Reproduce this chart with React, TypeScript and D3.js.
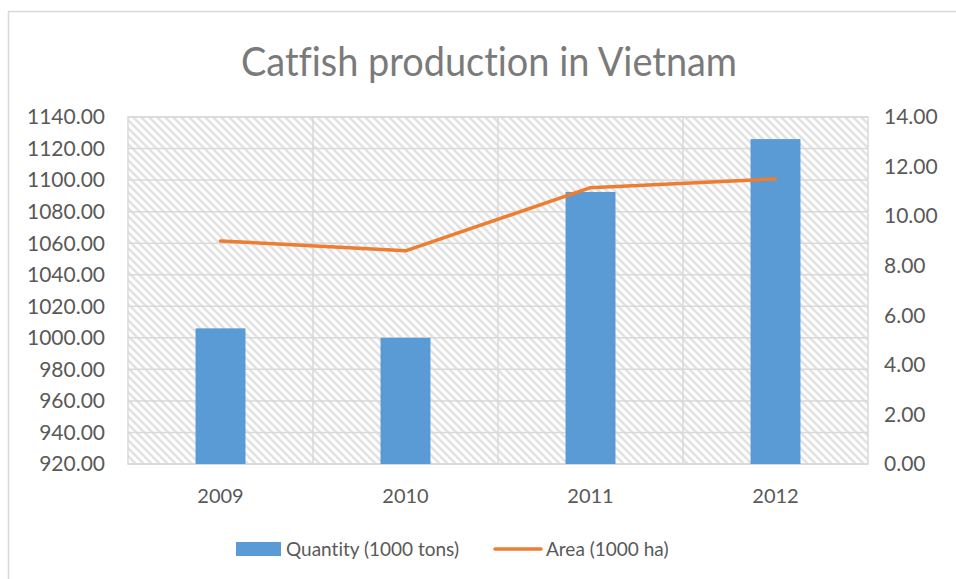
import React from "react";
import * as d3 from "d3";

const years = ["2009", "2010", "2011", "2012"];
const quantity = [1006, 1000, 1092.5, 1126];
const area = [9.0, 8.6, 11.15, 11.5];
const leftTicks = [920, 940, 960, 980, 1000, 1020, 1040, 1060, 1080, 1100, 1120, 1140];
const rightTicks = [0, 2, 4, 6, 8, 10, 12, 14];

const W = 956;
const H = 579;
const plot = { left: 128, right: 868, top: 117, bottom: 464 };
const FONT = "Lato, 'Open Sans', sans-serif";
const TXT = "#595959";
const GRID = "#d9d9d9";

export default function App() {
  const x = d3.scaleBand<string>().domain(years).range([plot.left, plot.right]).paddingInner(0).paddingOuter(0);
  const yL = d3.scaleLinear().domain([920, 1140]).range([plot.bottom, plot.top]);
  const yR = d3.scaleLinear().domain([0, 14]).range([plot.bottom, plot.top]);
  const bw = x.bandwidth() * 0.27;
  const line = d3
    .line<number>()
    .x((_, i) => (x(years[i]) as number) + x.bandwidth() / 2)
    .y((d) => yR(d));

  return (
    <svg width={W} height={H} style={{ position: "absolute", left: 0, top: 0, fontVariantLigatures: "none" }} fontFamily={FONT}>
      <defs>
        <pattern id="hatch" patternUnits="userSpaceOnUse" width="8" height="8">
          <rect width="8" height="8" fill="#ffffff" />
          <path d="M-2,-2 L10,10 M-2,6 L2,10 M6,-2 L10,2" stroke="#e2e2e2" strokeWidth="2.6" />
        </pattern>
      </defs>
      <rect x={0} y={0} width={W} height={H} fill="#ffffff" />
      <rect x={8.5} y={11.5} width={W + 20} height={H + 20} fill="#ffffff" stroke={GRID} strokeWidth={1.5} />
      <text x={489} y={76} textAnchor="middle" fontSize={40} fill="#7a7a7a" fontWeight={400} textLength={496} lengthAdjust="spacingAndGlyphs">
        Catfish production in Vietnam
      </text>
      <rect x={plot.left} y={plot.top} width={plot.right - plot.left} height={plot.bottom - plot.top} fill="url(#hatch)" />
      {leftTicks.map((t) => (
        <line key={"g" + t} x1={plot.left} x2={plot.right} y1={yL(t)} y2={yL(t)} stroke={GRID} strokeWidth={1.5} />
      ))}
      {years.map((y, i) =>
        i > 0 ? (
          <line key={"v" + y} x1={x(y)} x2={x(y)} y1={plot.top} y2={plot.bottom} stroke={GRID} strokeWidth={1.5} />
        ) : null
      )}
      <rect x={plot.left} y={plot.top} width={plot.right - plot.left} height={plot.bottom - plot.top} fill="none" stroke={GRID} strokeWidth={1.5} />
      {years.map((y, i) => (
        <rect
          key={"b" + y}
          x={(x(y) as number) + x.bandwidth() / 2 - bw / 2}
          y={yL(quantity[i])}
          width={bw}
          height={plot.bottom - yL(quantity[i])}
          fill="#5b9bd5"
        />
      ))}
      <path d={line(area) || ""} fill="none" stroke="#ed7d31" strokeWidth={3.5} strokeLinecap="round" strokeLinejoin="round" />
      {leftTicks.map((t) => (
        <text key={"l" + t} x={105} y={yL(t)} dy="0.35em" textAnchor="end" fontSize={21} fill={TXT}>
          {t.toFixed(2)}
        </text>
      ))}
      {rightTicks.map((t) => (
        <text key={"r" + t} x={884} y={yR(t)} dy="0.35em" textAnchor="start" fontSize={21} fill={TXT}>
          {t.toFixed(2)}
        </text>
      ))}
      {years.map((y) => (
        <text key={"x" + y} x={(x(y) as number) + x.bandwidth() / 2} y={503} textAnchor="middle" fontSize={20} fill={TXT}>
          {y}
        </text>
      ))}
      <rect x={236} y={542} width={45} height={14} fill="#5b9bd5" />
      <text x={286} y={556} fontSize={19} fill={TXT}>
        Quantity (1000 tons)
      </text>
      <line x1={495} x2={541} y1={549} y2={549} stroke="#ed7d31" strokeWidth={3.5} strokeLinecap="round" />
      <text x={546} y={556} fontSize={19} fill={TXT}>
        Area (1000 ha)
      </text>
    </svg>
  );
}
